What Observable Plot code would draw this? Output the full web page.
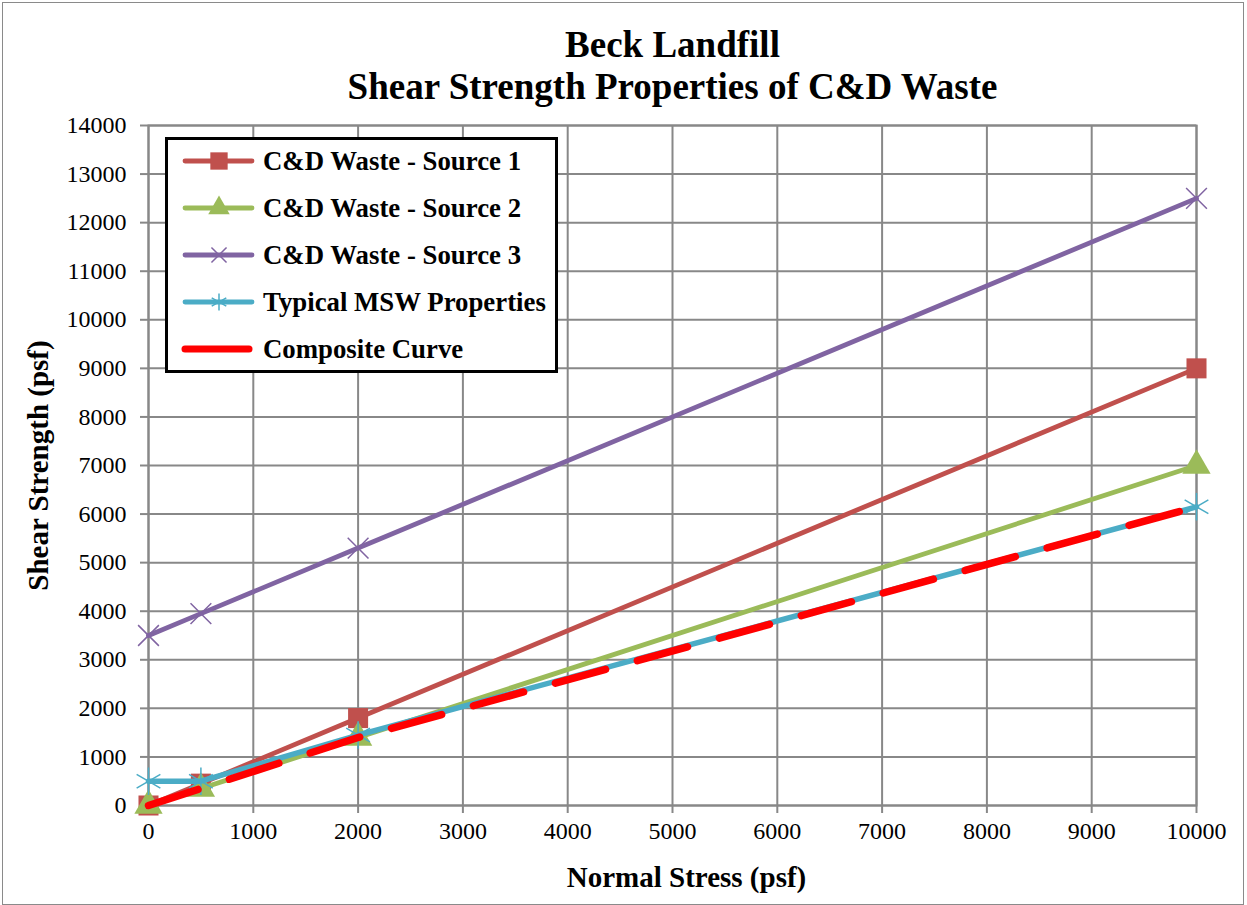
<!DOCTYPE html>
<html><head><meta charset="utf-8">
<script src="https://cdn.jsdelivr.net/npm/d3@7"></script>
<script src="https://cdn.jsdelivr.net/npm/@observablehq/plot@0.6"></script>
<style>
body{margin:0;background:#fff;}
#wrap{position:relative;width:1247px;height:905px;overflow:hidden}
#outer{position:absolute;left:2px;top:2px;width:1242px;height:903px;border:1.5px solid #8a8a8a;box-sizing:border-box;pointer-events:none}
#legend{position:absolute;left:165px;top:137px;width:393px;height:236px;border:3px solid #000;background:#fff;box-sizing:border-box}
</style></head>
<body><div id="wrap"><div id="outer"></div></div>
<script>
const normalStress = [0, 500, 2000, 10000];
const source1 = [0, 450, 1800, 9000];
const source2 = [0, 350, 1400, 7000];
const source3 = [3500, 3950, 5300, 12500];
const mswTypical = [500, 500, 1450, 6150];
const composite = [0, 350, 1400, 6150];
const xTicks = d3.range(0, 10001, 1000);
const yTicks = d3.range(0, 14001, 1000);
const seriesNames = ["C&D Waste - Source 1","C&D Waste - Source 2","C&D Waste - Source 3","Typical MSW Properties","Composite Curve"];
const seriesColors = ["#C0504D","#9BBB59","#8064A2","#4BACC6","#FF0000"];
const seriesSymbols = ["square","triangle","times","asterisk",null];
const seriesValues = [source1, source2, source3, mswTypical, composite];
const titleLines = ["Beck Landfill","Shear Strength Properties of C&D Waste"];
const xLabel = "Normal Stress (psf)";
const yLabel = "Shear Strength (psf)";

const rows = (ys) => normalStress.map((x,i)=>({x, y: ys[i]}));
const font = '"Liberation Serif", "Times New Roman", serif';
const symR = {square:11.3, triangle:10.5, times:9.5, asterisk:13};
const lineW = [4.8, 4.8, 4.8, 5.5];

const marks = [
  Plot.gridX(xTicks,{stroke:"#888", strokeOpacity:1, strokeWidth:2}),
  Plot.gridY(yTicks,{stroke:"#888", strokeOpacity:1, strokeWidth:2}),
  Plot.frame({stroke:"#888", strokeWidth:2}),
  Plot.axisX(xTicks,{tickSize:8, stroke:"#888", strokeWidth:2, tickPadding:8, fontSize:24, fill:"#000", label:null, tickFormat:d=>String(d)}),
  Plot.axisY(yTicks,{tickSize:8, stroke:"#888", strokeWidth:2, tickPadding:14, fontSize:24, fill:"#000", label:null, tickFormat:d=>String(d)})
];
seriesValues.forEach((vals,i)=>{
  const d = rows(vals);
  if (i < 4) {
    marks.push(Plot.line(d,{x:"x", y:"y", stroke:seriesColors[i], strokeWidth:lineW[i]}));
    const sym = seriesSymbols[i];
    const filled = sym==="square"||sym==="triangle";
    marks.push(Plot.dot(d,{x:"x", y:"y", symbol:()=>sym, r: symR[sym],
      fill: filled?seriesColors[i]:"none", stroke: seriesColors[i], strokeWidth: filled?0:1.5}));
  } else {
    marks.push(Plot.line(d,{x:"x", y:"y", stroke:seriesColors[i], strokeWidth:7.5, strokeDasharray:"52,33", strokeLinecap:"round"}));
  }
});
marks.push(
  Plot.text([xLabel],{frameAnchor:"bottom", lineAnchor:"middle", dx:14, dy:72, fontWeight:"bold", fontSize:29, fill:"#000"}),
  Plot.text([yLabel],{frameAnchor:"left", textAnchor:"middle", lineAnchor:"middle", dx:-110, rotate:-90, fontWeight:"bold", fontSize:29, fill:"#000"}),
  Plot.text([titleLines[0]],{frameAnchor:"top", lineAnchor:"middle", dy:-80, fontWeight:"bold", fontSize:37, fill:"#000"}),
  Plot.text([titleLines[1]],{frameAnchor:"top", lineAnchor:"middle", dy:-38, fontWeight:"bold", fontSize:37, fill:"#000"})
);

const chart = Plot.plot({
  width:1247, height:905, marginLeft:148, marginRight:51, marginTop:125, marginBottom:100,
  style:{fontFamily:font, background:"transparent", color:"#000", overflow:"visible"},
  x:{domain:[0,10000]}, y:{domain:[0,14000]},
  marks
});
chart.style.position="absolute"; chart.style.left="0"; chart.style.top="0";
const wrap = document.getElementById("wrap");
wrap.insertBefore(chart, wrap.firstChild);

// legend
const leg = document.createElement("div"); leg.id="legend"; wrap.appendChild(leg);
const svg = d3.select(leg).append("svg").attr("width",387).attr("height",230);
const symMap = {square:d3.symbolSquare, triangle:d3.symbolTriangle, times:d3.symbolTimes, asterisk:d3.symbolAsterisk};
const legSize = {square:300, triangle:200, times:150, asterisk:200};
seriesNames.forEach((name,i)=>{
  const cy = 21 + i*47;
  const g = svg.append("g").attr("transform",`translate(0,${cy})`);
  if (i<4) {
    g.append("line").attr("x1",17).attr("x2",84).attr("y1",0).attr("y2",0).attr("stroke",seriesColors[i]).attr("stroke-width",4.8).attr("stroke-linecap","round");
    const sym = seriesSymbols[i];
    const filled = sym==="square"||sym==="triangle";
    g.append("path").attr("transform","translate(51,0)").attr("d",d3.symbol(symMap[sym],legSize[sym])())
      .attr("fill",filled?seriesColors[i]:"none").attr("stroke",seriesColors[i]).attr("stroke-width",filled?0:1.5);
  } else {
    g.append("line").attr("x1",17).attr("x2",81).attr("y1",0).attr("y2",0).attr("stroke",seriesColors[i]).attr("stroke-width",7).attr("stroke-linecap","round");
  }
  g.append("text").attr("x",95).attr("y",0).attr("dy","0.35em").attr("font-family",font).attr("font-weight","bold").attr("font-size",26.8).attr("fill","#000").text(name);
});
</script></body></html>
